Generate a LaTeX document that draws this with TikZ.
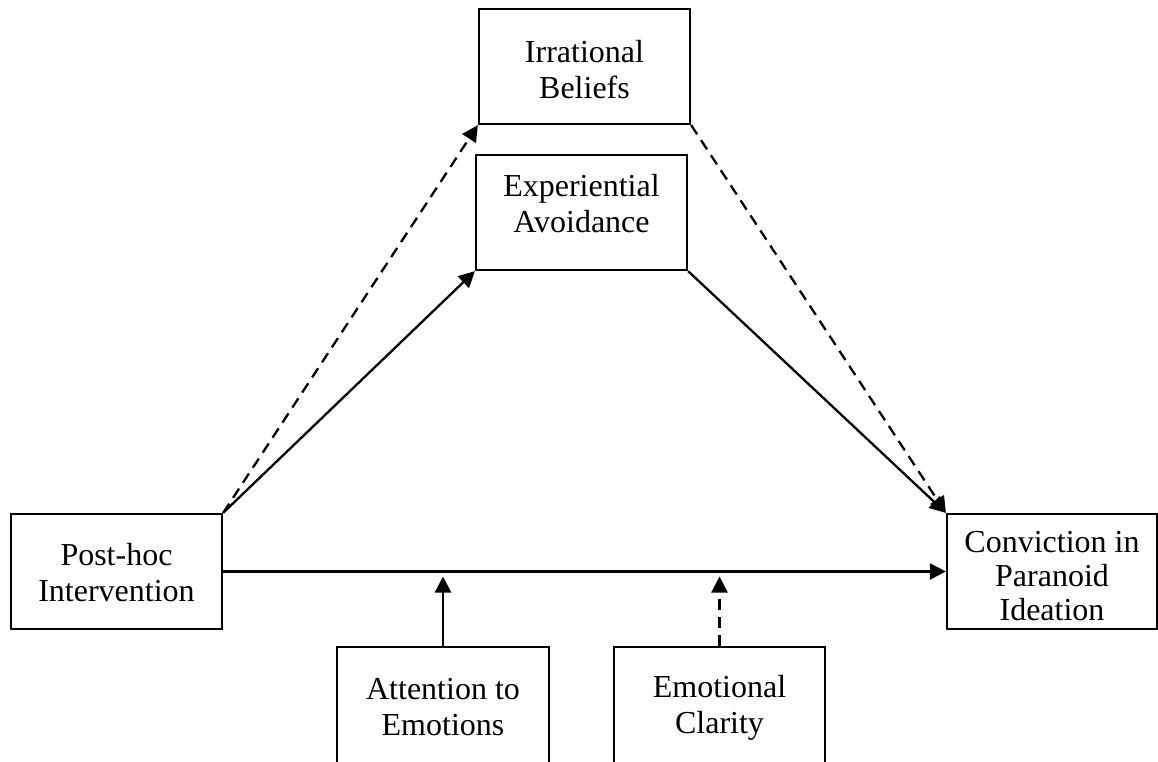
\documentclass[tikz,border=0pt]{standalone}
\usepackage{fontspec}
\setmainfont{Liberation Serif}
\usetikzlibrary{arrows.meta}
\begin{document}
\begin{tikzpicture}[x=1pt,y=-1pt,
  box/.style={draw, line width=2.3pt, rectangle, inner sep=0pt},
  lbl/.style={inner sep=0pt, align=center, font=\fontsize{32}{36}\selectfont},
  conn/.style={line width=2.3pt, -{Triangle[length=16pt,width=16pt]}},
  dconn/.style={conn, dash pattern=on 11pt off 7pt}]
\useasboundingbox (0,0) rectangle (1158,762);
\clip (0,0) rectangle (1158,762);
% boxes
\node[box, minimum width=211pt, minimum height=115pt] (ib) at (584.5,66.5) {};
\node[box, minimum width=211pt, minimum height=115pt] (ea) at (581.5,212.5) {};
\node[box, minimum width=211pt, minimum height=115pt] (ph) at (116.5,571.5) {};
\node[box, minimum width=210pt, minimum height=115pt] (cp) at (1052,571.5) {};
\node[box, minimum width=212pt, minimum height=122pt] (ae) at (443,708) {};
\node[box, minimum width=211pt, minimum height=122pt] (ec) at (719.5,708) {};
% labels
\node[lbl] (ibt) at (584.5,70) {Irrational\\Beliefs};
\node[lbl] (eat) at (581.5,203.5) {Experiential\\Avoidance};
\node[lbl] (pht) at (116.5,572.5) {Post-hoc\\Intervention};
\node[lbl, font=\fontsize{32}{34}\selectfont] (cpt) at (1052,576) {Conviction in\\Paranoid\\Ideation};
\node[lbl] (aet) at (443,707.5) {Attention to\\Emotions};
\node[lbl] (ect) at (719.5,707.5) {Emotional\\Clarity};
% connectors
\draw[dconn] (ph.north east) -- (ib.south west);
\draw[conn] (ph.north east) -- (ea.south west);
\draw[conn] (ea.south east) -- (cp.north west);
\draw[dconn] (ib.south east) -- (cp.north west);
\draw[conn] (ph.east) -- (cp.west);
\draw[conn, shorten >=5pt] (ae.north) -- (ae.north |- ph.east);
\draw[dconn, shorten >=5pt] (ec.north) -- (ec.north |- ph.east);
\end{tikzpicture}
\end{document}
